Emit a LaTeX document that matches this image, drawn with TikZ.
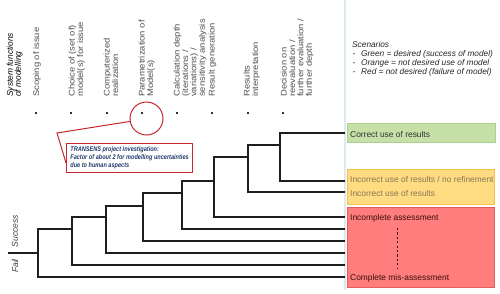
\documentclass[tikz,border=0pt]{standalone}
\usepackage{fontspec}
\setmainfont{Liberation Sans}
\newfontfamily\headfont[FakeStretch=1.15]{Liberation Sans}
\newfontfamily\calloutfont[FakeStretch=0.82]{Liberation Sans}
\usetikzlibrary{calc}
\definecolor{treecol}{HTML}{1E1E1E}
\definecolor{sepcol}{HTML}{DCEAF0}
\definecolor{dotcol}{HTML}{333333}
\definecolor{headgray}{HTML}{505050}
\definecolor{greenfill}{HTML}{C6E0A8}
\definecolor{greenborder}{HTML}{A9D08E}
\definecolor{yellowfill}{HTML}{FFDB82}
\definecolor{yellowborder}{HTML}{F2BF4A}
\definecolor{redfill}{HTML}{FF7D7D}
\definecolor{redborder}{HTML}{E65A5A}
\definecolor{yellowtext}{HTML}{867652}
\definecolor{redtext}{HTML}{3A0C0C}
\definecolor{calloutred}{HTML}{C8262C}
\definecolor{calloutblue}{HTML}{1F3A6E}
\begin{document}
\begin{tikzpicture}[x=1pt,y=-1pt,
  treeline/.style={draw=treecol, line width=1.3pt, line join=miter},
  hlabel/.style={rotate=90, anchor=north west, inner sep=0pt, align=left, text=headgray,
    font=\headfont\fontsize{8.2}{8.4}\selectfont},
  bdot/.style={rectangle, fill=dotcol, minimum size=2pt, inner sep=0pt},
  sidelabel/.style={rotate=90, inner sep=0pt, text=black!75, font=\itshape\fontsize{8.5}{9}\selectfont},
  scen/.style={anchor=base west, inner sep=0pt, text=black!85, font=\itshape\fontsize{8.3}{9}\selectfont},
  boxtext/.style={anchor=base west, inner sep=0pt, font=\fontsize{8.4}{9}\selectfont},
  outbox/.style={rectangle, anchor=north west, inner sep=0pt, line width=0.8pt}
]
\useasboundingbox (0,0) rectangle (500,294);
\fill[white] (0,0) rectangle (500,294);

% separator
\draw[sepcol, line width=1.5pt] (345,0) -- (345,290);

% headings
\node[rotate=90, anchor=north west, inner sep=0pt, align=left, text=black,
  font=\itshape\fontsize{8.4}{8.2}\selectfont] (sys) at (6.5,97) {System functions\\of modelling};
\node[hlabel] (h1) at (33,97) {Scoping of issue};
\node[hlabel] (h2) at (68.5,97) {Choice of (set of)\\model(s) for issue};
\node[hlabel] (h3) at (103.5,97) {Computerized\\realization};
\node[hlabel] (h4) at (138.5,97) {Parametrization of\\Model(s)};
\node[hlabel] (h5) at (173.5,97) {Calculation depth\\(iterations /\\variations) /\\sensitivity analysis};
\node[hlabel] (h6) at (208.5,97) {Result generation};
\node[hlabel] (h7) at (243.5,97) {Results\\interpretation};
\node[hlabel] (h8) at (280.5,97) {Decision on\\reevaluation /\\further evaluation /\\further depth};

% dots
\node[bdot] (d1) at (36,113) {};
\node[bdot] (d2) at (71,113) {};
\node[bdot] (d3) at (107,113) {};
\node[bdot] (d4) at (142,113) {};
\node[bdot] (d5) at (177,113) {};
\node[bdot] (d6) at (212,113) {};
\node[bdot] (d7) at (248,113) {};
\node[bdot] (d8) at (283,113) {};

% scenarios
\node[scen] (sc0) at (352,47.5) {Scenarios};
\node[scen] (sc1) at (352.5,57) {\makebox[8.5pt][l]{-}Green = desired (success of model)};
\node[scen] (sc2) at (352.5,66) {\makebox[8.5pt][l]{-}Orange = not desired use of model};
\node[scen] (sc3) at (352.5,75) {\makebox[8.5pt][l]{-}Red = not desired (failure of model)};

% tree coordinates
\coordinate (r0) at (8,253);
\coordinate (Am) at (38,253); \coordinate (At) at (38,229); \coordinate (Ab) at (38,277);
\coordinate (Bm) at (72,229); \coordinate (Bt) at (72,217); \coordinate (Bb) at (72,265);
\coordinate (Cm) at (106,217); \coordinate (Ct) at (106,206); \coordinate (Cb) at (106,253);
\coordinate (Dm) at (143,206); \coordinate (Dt) at (143,193); \coordinate (Db) at (143,241);
\coordinate (Em) at (182,193); \coordinate (Et) at (182,181); \coordinate (Eb) at (182,229);
\coordinate (Fm) at (214,181); \coordinate (Ft) at (214,157); \coordinate (Fb) at (214,217);
\coordinate (Gm) at (248,157); \coordinate (Gt) at (248,145); \coordinate (Gb) at (248,192);
\coordinate (Hm) at (280,145); \coordinate (Ht) at (280,133); \coordinate (Hb) at (280,181);
\coordinate (l1) at (345,133);
\coordinate (l2) at (345,181);
\coordinate (l3) at (345,192);
\coordinate (l4) at (345,217);
\coordinate (l5) at (345,229);
\coordinate (l6) at (345,241);
\coordinate (l7) at (345,253);
\coordinate (l8) at (345,265);
\coordinate (l9) at (345,277);

\draw[treeline] (r0) -- (Am);
\draw[treeline] (l9) -- (Ab) -- (At) -- (Bm);
\draw[treeline] (l8) -- (Bb) -- (Bt) -- (Cm);
\draw[treeline] (l7) -- (Cb) -- (Ct) -- (Dm);
\draw[treeline] (l6) -- (Db) -- (Dt) -- (Em);
\draw[treeline] (l5) -- (Eb) -- (Et) -- (Fm);
\draw[treeline] (l4) -- (Fb) -- (Ft) -- (Gm);
\draw[treeline] (l3) -- (Gb) -- (Gt) -- (Hm);
\draw[treeline] (l2) -- (Hb) -- (Ht) -- (l1);

\node[sidelabel] (succ) at (15,231) {Success};
\node[sidelabel] (fail) at (15,266) {Fail};

% outcome boxes
\node[outbox, fill=greenfill, draw=greenborder, minimum width=148pt, minimum height=19pt] (bgreen) at (347,123) {};
\node[outbox, fill=yellowfill, draw=yellowborder, minimum width=147pt, minimum height=35pt] (byellow) at (347,169) {};
\node[outbox, fill=redfill, draw=redborder, minimum width=147pt, minimum height=80pt] (bred) at (347,207) {};
\node[boxtext, text=black!80] (t1) at (350,137) {Correct use of results};
\node[boxtext, text=yellowtext] (t2) at (350,182) {Incorrect use of results / no refinement};
\node[boxtext, text=yellowtext] (t3) at (350,196) {Incorrect use of results};
\node[boxtext, text=redtext] (t4) at (350,220) {Incomplete assessment};
\node[boxtext, text=redtext] (t5) at (350,280) {Complete mis-assessment};
\coordinate (dtop) at (397,228);
\coordinate (dbot) at (397,268);
\draw[redtext, line width=0.9pt, dash pattern=on 2.2pt off 2.2pt] (dtop) -- (dbot);

% callout
\node[circle, draw=calloutred, line width=1pt, minimum size=33pt, inner sep=0pt] (circ) at (146.5,118.5) {};
\node[rectangle, anchor=north west, draw=calloutred, line width=1.1pt, fill=white,
  minimum width=126pt, minimum height=29pt, inner sep=0pt, align=left, text=calloutblue,
  font=\calloutfont\bfseries\itshape\fontsize{6.8}{8}\selectfont] (tbox) at (66,143)
  {TRANSENS project investigation:\\Factor of about 2 for modelling uncertainties\\due to human aspects};
\coordinate (ck) at (57,133);
\coordinate (cb) at ($(tbox.south west)!0.34!(tbox.north west)$);
\draw[calloutred, line width=1pt, line join=miter] (circ.190) -- (ck) -- (cb);
\end{tikzpicture}
\end{document}
